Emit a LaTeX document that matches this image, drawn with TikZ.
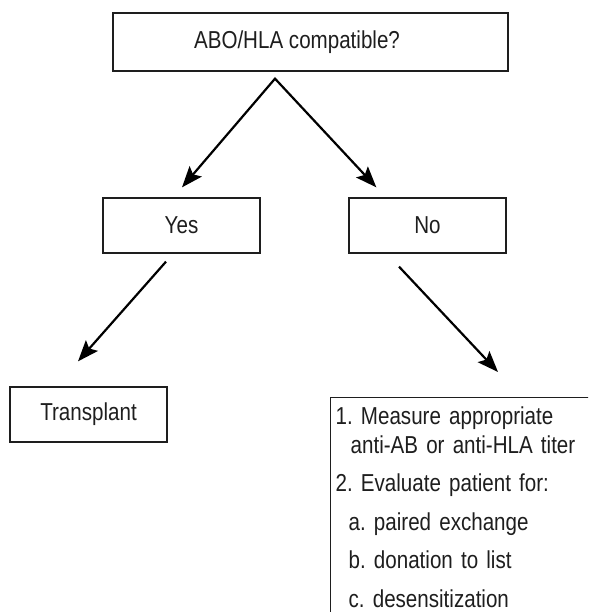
\documentclass[tikz,border=0pt]{standalone}
\usepackage{fontspec}
\setmainfont{Liberation Sans}[FakeStretch=0.84]
\usepackage{tikz}
\usetikzlibrary{arrows.meta, positioning}
\definecolor{inkgray}{HTML}{1E1E1E}

\begin{document}
\begin{tikzpicture}[x=1pt, y=-1pt, >={Stealth[length=21pt, width=16pt, inset=4pt]}, font=\fontsize{24.5}{29}\selectfont\frenchspacing]
    \tikzstyle{choice} = [rectangle, draw=inkgray, line width=1.3pt, text=inkgray, minimum width=157pt, minimum height=55pt, inner sep=0pt]
    \tikzstyle{plan} = [rectangle, draw=inkgray, line width=1.3pt, text=inkgray, text width=270pt, align=left, inner xsep=5pt, inner ysep=9pt]
    \tikzstyle{link} = [->, line width=2.2pt]

    \useasboundingbox (0,0) rectangle (588,612);
    \clip (0,0) rectangle (588,612);

    \node (query) [choice, minimum width=395pt, minimum height=58pt] at (310.5,42) {ABO/HLA compatible?\hspace*{27pt}};
    \node (yes)   [choice] at (181.5,225.5) {Yes};
    \node (no)    [choice] at (427.5,225.5) {No};
    \node (tx)    [choice] at (88.5,414.5)  {Transplant};
    \node (todo)  [plan, anchor=north west] at (330,397) {1. Measure appropriate\\
        \hspace*{15pt}anti-AB or anti-HLA titer\\[9.5pt]
        2. Evaluate patient for:\\[9.5pt]
        \hspace*{13pt}a. paired exchange\\[9.5pt]
        \hspace*{13pt}b. donation to list\\[9.5pt]
        \hspace*{13pt}c. desensitization};

    % split arrow under the question
    \coordinate (split) at ([shift={(-35.5,7)}]query.south);
    \coordinate (yesend) at ([shift={(0.5,-10)}]yes.north);
    \coordinate (noend) at ([shift={(28,-10)}]no.north west);
    \draw [<->, line width=2.2pt] (yesend) -- (split) -- (noend);

    \draw [link] ([shift={(-15.5,8)}]yes.south) -- ([shift={(-10.5,-25)}]tx.north);
    \draw [link] ([shift={(-28.5,13)}]no.south) -- ([shift={(168,-25)}]todo.north west);
\end{tikzpicture}
\end{document}
